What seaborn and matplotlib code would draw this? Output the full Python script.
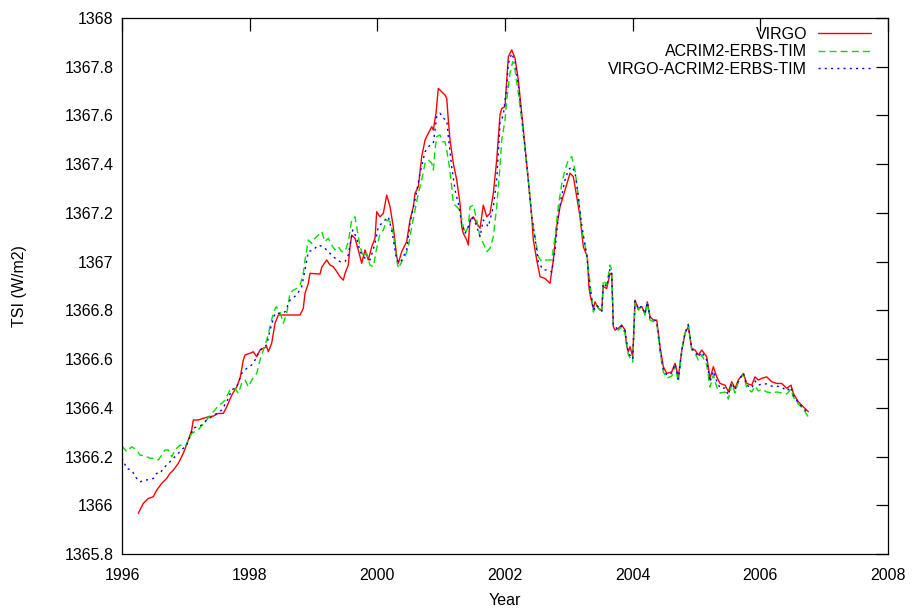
import matplotlib
matplotlib.use("Agg")
import matplotlib.pyplot as plt
import seaborn as sns
import pandas as pd
from matplotlib.ticker import FuncFormatter

# ---------------- data ----------------
virgo_year = [1996.255, 1996.334, 1996.412, 1996.490, 1996.544, 1996.622, 1996.700, 1996.752, 1996.804, 1996.882,
              1996.960, 1997.039, 1997.092, 1997.117, 1997.195, 1997.274, 1997.352, 1997.430, 1997.509, 1997.587,
              1997.640, 1997.719, 1997.797, 1997.849, 1997.900, 1997.927, 1998.005, 1998.057, 1998.110, 1998.162,
              1998.267, 1998.292, 1998.345, 1998.397, 1998.449, 1998.789, 1998.840, 1998.867, 1998.919, 1998.945,
              1999.102, 1999.129, 1999.207, 1999.259, 1999.310, 1999.364, 1999.415, 1999.467, 1999.494, 1999.545,
              1999.572, 1999.599, 1999.650, 1999.702, 1999.755, 1999.807, 1999.859, 1999.912, 1999.964, 1999.990,
              2000.042, 2000.094, 2000.147, 2000.199, 2000.250, 2000.304, 2000.329, 2000.382, 2000.460, 2000.512,
              2000.564, 2000.590, 2000.642, 2000.695, 2000.747, 2000.799, 2000.852, 2000.877, 2000.919, 2000.955,
              2001.009, 2001.060, 2001.087, 2001.112, 2001.139, 2001.190, 2001.244, 2001.295, 2001.322, 2001.347,
              2001.400, 2001.425, 2001.452, 2001.504, 2001.557, 2001.609, 2001.660, 2001.714, 2001.765, 2001.817,
              2001.870, 2001.922, 2001.949, 2002.000, 2002.027, 2002.052, 2002.105, 2002.157, 2002.209, 2002.262,
              2002.314, 2002.365, 2002.419, 2002.444, 2002.497, 2002.549, 2002.627, 2002.705, 2002.757, 2002.810,
              2002.862, 2002.940, 2003.019, 2003.070, 2003.124, 2003.175, 2003.227, 2003.290, 2003.316, 2003.340,
              2003.384, 2003.410, 2003.462, 2003.515, 2003.540, 2003.594, 2003.645, 2003.672, 2003.697, 2003.724,
              2003.775, 2003.829, 2003.880, 2003.907, 2003.932, 2003.959, 2004.001, 2004.037, 2004.089, 2004.142,
              2004.194, 2004.230, 2004.272, 2004.324, 2004.377, 2004.429, 2004.480, 2004.534, 2004.612, 2004.664,
              2004.715, 2004.769, 2004.820, 2004.872, 2004.925, 2004.977, 2005.029, 2005.082, 2005.160, 2005.212,
              2005.264, 2005.317, 2005.369, 2005.447, 2005.499, 2005.552, 2005.604, 2005.655, 2005.734, 2005.787,
              2005.865, 2005.917, 2005.969, 2006.022, 2006.100, 2006.179, 2006.257, 2006.335, 2006.414, 2006.481,
              2006.517, 2006.595, 2006.674, 2006.752]
virgo_tsi = [1365.967, 1366.008, 1366.028, 1366.035, 1366.062, 1366.090, 1366.110, 1366.131, 1366.144, 1366.172,
             1366.213, 1366.268, 1366.309, 1366.350, 1366.350, 1366.357, 1366.363, 1366.366, 1366.377, 1366.377,
             1366.404, 1366.452, 1366.486, 1366.521, 1366.596, 1366.617, 1366.624, 1366.630, 1366.610, 1366.637,
             1366.651, 1366.630, 1366.665, 1366.747, 1366.781, 1366.781, 1366.808, 1366.870, 1366.911, 1366.952,
             1366.949, 1366.977, 1367.007, 1366.986, 1366.979, 1366.959, 1366.938, 1366.924, 1366.952, 1366.986,
             1367.061, 1367.109, 1367.096, 1367.048, 1366.993, 1367.048, 1367.007, 1367.061, 1367.096, 1367.205,
             1367.184, 1367.198, 1367.273, 1367.225, 1367.143, 1367.020, 1366.993, 1367.041, 1367.082, 1367.171,
             1367.225, 1367.280, 1367.307, 1367.431, 1367.499, 1367.527, 1367.554, 1367.540, 1367.609, 1367.711,
             1367.697, 1367.684, 1367.670, 1367.581, 1367.499, 1367.404, 1367.335, 1367.239, 1367.143, 1367.116,
             1367.089, 1367.068, 1367.171, 1367.184, 1367.157, 1367.137, 1367.232, 1367.184, 1367.198, 1367.280,
             1367.417, 1367.602, 1367.629, 1367.636, 1367.745, 1367.841, 1367.869, 1367.835, 1367.745, 1367.609,
             1367.472, 1367.335, 1367.184, 1367.089, 1367.007, 1366.938, 1366.931, 1366.911, 1367.007, 1367.143,
             1367.225, 1367.294, 1367.363, 1367.349, 1367.266, 1367.184, 1367.061, 1367.020, 1366.892, 1366.855,
             1366.808, 1366.835, 1366.808, 1366.801, 1366.897, 1366.890, 1366.952, 1366.945, 1366.733, 1366.719,
             1366.726, 1366.740, 1366.719, 1366.651, 1366.630, 1366.651, 1366.610, 1366.842, 1366.808, 1366.815,
             1366.788, 1366.835, 1366.774, 1366.760, 1366.760, 1366.651, 1366.569, 1366.541, 1366.548, 1366.583,
             1366.527, 1366.637, 1366.706, 1366.733, 1366.644, 1366.637, 1366.617, 1366.637, 1366.610, 1366.521,
             1366.569, 1366.527, 1366.500, 1366.493, 1366.466, 1366.507, 1366.480, 1366.514, 1366.541, 1366.500,
             1366.493, 1366.527, 1366.514, 1366.521, 1366.527, 1366.507, 1366.500, 1366.500, 1366.480, 1366.493,
             1366.459, 1366.425, 1366.404, 1366.384]

acrim_year = [1996.000, 1996.074, 1996.152, 1996.230, 1996.282, 1996.360, 1996.439, 1996.517, 1996.569, 1996.622,
              1996.674, 1996.725, 1996.779, 1996.830, 1996.909, 1996.987, 1997.039, 1997.092, 1997.144, 1997.195,
              1997.274, 1997.327, 1997.379, 1997.457, 1997.509, 1997.562, 1997.614, 1997.692, 1997.770, 1997.822,
              1997.875, 1997.927, 1997.979, 1998.032, 1998.110, 1998.162, 1998.214, 1998.267, 1998.319, 1998.370,
              1998.413, 1998.475, 1998.527, 1998.580, 1998.632, 1998.684, 1998.737, 1998.789, 1998.840, 1998.867,
              1998.919, 1998.972, 1999.024, 1999.075, 1999.129, 1999.180, 1999.232, 1999.285, 1999.337, 1999.389,
              1999.442, 1999.494, 1999.545, 1999.599, 1999.650, 1999.677, 1999.729, 1999.780, 1999.834, 1999.885,
              1999.937, 1999.990, 2000.042, 2000.094, 2000.147, 2000.199, 2000.250, 2000.304, 2000.329, 2000.382,
              2000.434, 2000.485, 2000.539, 2000.590, 2000.642, 2000.695, 2000.747, 2000.799, 2000.852, 2000.877,
              2000.904, 2000.930, 2000.982, 2001.024, 2001.060, 2001.087, 2001.128, 2001.165, 2001.190, 2001.244,
              2001.295, 2001.347, 2001.374, 2001.425, 2001.452, 2001.504, 2001.557, 2001.609, 2001.660, 2001.714,
              2001.765, 2001.817, 2001.870, 2001.922, 2001.949, 2002.000, 2002.027, 2002.079, 2002.121, 2002.157,
              2002.209, 2002.262, 2002.314, 2002.365, 2002.419, 2002.470, 2002.522, 2002.575, 2002.654, 2002.732,
              2002.784, 2002.835, 2002.889, 2002.940, 2002.992, 2003.045, 2003.097, 2003.149, 2003.202, 2003.280,
              2003.332, 2003.384, 2003.437, 2003.515, 2003.540, 2003.594, 2003.645, 2003.672, 2003.697, 2003.775,
              2003.829, 2003.880, 2003.932, 2004.001, 2004.037, 2004.089, 2004.142, 2004.194, 2004.230, 2004.272,
              2004.377, 2004.429, 2004.480, 2004.534, 2004.612, 2004.664, 2004.715, 2004.769, 2004.820, 2004.872,
              2004.925, 2004.977, 2005.029, 2005.082, 2005.160, 2005.212, 2005.264, 2005.317, 2005.369, 2005.447,
              2005.499, 2005.552, 2005.604, 2005.655, 2005.734, 2005.787, 2005.865, 2005.917, 2005.969, 2006.022,
              2006.100, 2006.179, 2006.257, 2006.335, 2006.414, 2006.481, 2006.517, 2006.595, 2006.674, 2006.752]
acrim_tsi = [1366.243, 1366.220, 1366.240, 1366.227, 1366.206, 1366.202, 1366.193, 1366.193, 1366.186, 1366.206,
             1366.227, 1366.227, 1366.199, 1366.227, 1366.247, 1366.240, 1366.268, 1366.295, 1366.302, 1366.309,
             1366.336, 1366.350, 1366.370, 1366.391, 1366.411, 1366.418, 1366.432, 1366.473, 1366.480, 1366.459,
             1366.500, 1366.514, 1366.486, 1366.514, 1366.541, 1366.596, 1366.637, 1366.678, 1366.733, 1366.788,
             1366.815, 1366.794, 1366.747, 1366.788, 1366.870, 1366.883, 1366.890, 1366.904, 1366.952, 1367.007,
             1367.089, 1367.075, 1367.096, 1367.109, 1367.123, 1367.082, 1367.096, 1367.068, 1367.048, 1367.061,
             1367.041, 1367.041, 1367.082, 1367.171, 1367.184, 1367.143, 1367.061, 1367.020, 1367.034, 1366.986,
             1366.979, 1367.055, 1367.116, 1367.130, 1367.171, 1367.164, 1367.116, 1367.007, 1366.972, 1367.000,
             1367.020, 1367.061, 1367.143, 1367.212, 1367.280, 1367.335, 1367.404, 1367.417, 1367.404, 1367.376,
             1367.458, 1367.513, 1367.520, 1367.492, 1367.492, 1367.458, 1367.390, 1367.307, 1367.239, 1367.225,
             1367.212, 1367.143, 1367.116, 1367.143, 1367.225, 1367.232, 1367.171, 1367.102, 1367.075, 1367.041,
             1367.055, 1367.102, 1367.225, 1367.390, 1367.499, 1367.581, 1367.663, 1367.773, 1367.821, 1367.787,
             1367.691, 1367.581, 1367.458, 1367.335, 1367.184, 1367.102, 1367.020, 1367.000, 1367.007, 1367.007,
             1367.102, 1367.225, 1367.321, 1367.376, 1367.417, 1367.431, 1367.376, 1367.266, 1367.130, 1367.034,
             1366.911, 1366.793, 1366.822, 1366.789, 1366.924, 1366.904, 1366.986, 1366.966, 1366.740, 1366.719,
             1366.732, 1366.707, 1366.617, 1366.588, 1366.834, 1366.801, 1366.818, 1366.781, 1366.830, 1366.760,
             1366.748, 1366.629, 1366.547, 1366.522, 1366.530, 1366.571, 1366.506, 1366.629, 1366.707, 1366.744,
             1366.637, 1366.625, 1366.596, 1366.617, 1366.576, 1366.485, 1366.535, 1366.485, 1366.461, 1366.465,
             1366.436, 1366.498, 1366.461, 1366.506, 1366.539, 1366.481, 1366.465, 1366.489, 1366.469, 1366.477,
             1366.465, 1366.461, 1366.465, 1366.461, 1366.457, 1366.477, 1366.444, 1366.416, 1366.395, 1366.362]

comp_year = [1996.000, 1996.074, 1996.152, 1996.230, 1996.282, 1996.360, 1996.439, 1996.490, 1996.544, 1996.595,
             1996.647, 1996.700, 1996.752, 1996.804, 1996.857, 1996.909, 1996.960, 1997.014, 1997.065, 1997.117,
             1997.170, 1997.249, 1997.327, 1997.405, 1997.484, 1997.562, 1997.640, 1997.719, 1997.797, 1997.875,
             1997.954, 1998.032, 1998.084, 1998.135, 1998.189, 1998.267, 1998.319, 1998.397, 1998.475, 1998.554,
             1998.632, 1998.737, 1998.815, 1998.867, 1998.919, 1998.997, 1999.075, 1999.154, 1999.232, 1999.310,
             1999.415, 1999.494, 1999.545, 1999.614, 1999.677, 1999.729, 1999.807, 1999.885, 1999.964, 2000.015,
             2000.094, 2000.172, 2000.225, 2000.304, 2000.355, 2000.460, 2000.512, 2000.590, 2000.669, 2000.747,
             2000.825, 2000.877, 2000.930, 2000.982, 2001.034, 2001.087, 2001.112, 2001.165, 2001.217, 2001.269,
             2001.322, 2001.374, 2001.425, 2001.479, 2001.530, 2001.609, 2001.660, 2001.739, 2001.817, 2001.870,
             2001.922, 2001.974, 2002.027, 2002.052, 2002.105, 2002.157, 2002.209, 2002.262, 2002.314, 2002.365,
             2002.419, 2002.470, 2002.522, 2002.600, 2002.679, 2002.732, 2002.784, 2002.835, 2002.889, 2002.940,
             2002.992, 2003.045, 2003.097, 2003.149, 2003.202, 2003.280, 2003.332, 2003.384, 2003.437, 2003.515,
             2003.540, 2003.594, 2003.645, 2003.672, 2003.697, 2003.775, 2003.829, 2003.880, 2003.932, 2004.001,
             2004.037, 2004.089, 2004.142, 2004.194, 2004.230, 2004.272, 2004.377, 2004.429, 2004.480, 2004.534,
             2004.612, 2004.664, 2004.715, 2004.769, 2004.820, 2004.872, 2004.925, 2004.977, 2005.029, 2005.082,
             2005.160, 2005.212, 2005.264, 2005.317, 2005.369, 2005.447, 2005.499, 2005.552, 2005.604, 2005.655,
             2005.734, 2005.787, 2005.865, 2005.917, 2005.969, 2006.022, 2006.100, 2006.179, 2006.257, 2006.335,
             2006.414, 2006.481, 2006.517, 2006.595, 2006.674, 2006.752]
comp_tsi = [1366.194, 1366.151, 1366.144, 1366.110, 1366.096, 1366.103, 1366.106, 1366.110, 1366.131, 1366.131,
            1366.151, 1366.165, 1366.179, 1366.193, 1366.206, 1366.220, 1366.234, 1366.247, 1366.281, 1366.316,
            1366.322, 1366.329, 1366.350, 1366.363, 1366.377, 1366.391, 1366.425, 1366.473, 1366.486, 1366.541,
            1366.562, 1366.576, 1366.596, 1366.624, 1366.644, 1366.658, 1366.719, 1366.788, 1366.788, 1366.794,
            1366.842, 1366.863, 1366.897, 1366.966, 1367.041, 1367.048, 1367.068, 1367.061, 1367.041, 1367.020,
            1367.000, 1367.000, 1367.027, 1367.130, 1367.096, 1367.041, 1367.014, 1367.007, 1367.075, 1367.143,
            1367.164, 1367.184, 1367.130, 1367.007, 1366.993, 1367.048, 1367.157, 1367.253, 1367.363, 1367.451,
            1367.479, 1367.486, 1367.595, 1367.609, 1367.588, 1367.581, 1367.513, 1367.390, 1367.294, 1367.239,
            1367.157, 1367.116, 1367.143, 1367.184, 1367.164, 1367.102, 1367.171, 1367.143, 1367.225, 1367.335,
            1367.568, 1367.602, 1367.718, 1367.814, 1367.855, 1367.821, 1367.725, 1367.598, 1367.466, 1367.335,
            1367.184, 1367.097, 1366.998, 1366.966, 1366.966, 1366.957, 1367.048, 1367.187, 1367.273, 1367.335,
            1367.376, 1367.390, 1367.368, 1367.265, 1367.150, 1367.027, 1366.892, 1366.801, 1366.822, 1366.797,
            1366.912, 1366.897, 1366.970, 1366.957, 1366.736, 1366.723, 1366.736, 1366.715, 1366.625, 1366.600,
            1366.838, 1366.805, 1366.818, 1366.785, 1366.834, 1366.768, 1366.756, 1366.641, 1366.559, 1366.534,
            1366.543, 1366.580, 1366.518, 1366.633, 1366.707, 1366.740, 1366.641, 1366.633, 1366.608, 1366.629,
            1366.596, 1366.506, 1366.551, 1366.510, 1366.481, 1366.481, 1366.452, 1366.502, 1366.473, 1366.510,
            1366.543, 1366.493, 1366.481, 1366.510, 1366.493, 1366.498, 1366.498, 1366.489, 1366.489, 1366.485,
            1366.469, 1366.485, 1366.452, 1366.420, 1366.399, 1366.374]

series_names = ["VIRGO", "ACRIM2-ERBS-TIM", "VIRGO-ACRIM2-ERBS-TIM"]
x_ticks = [1996, 1998, 2000, 2002, 2004, 2006, 2008]
y_ticks = [1365.8, 1366.0, 1366.2, 1366.4, 1366.6, 1366.8, 1367.0, 1367.2, 1367.4, 1367.6, 1367.8, 1368.0]

# ---------------- styling ----------------
sns.set_theme(style="white")
plt.rcParams["font.family"] = ["Liberation Sans", "DejaVu Sans"]
plt.rcParams.update({
    "axes.linewidth": 0.9,
    "text.color": "black",
    "axes.labelcolor": "black",
    "xtick.color": "black",
    "ytick.color": "black",
    "axes.edgecolor": "black",
})

fig = plt.figure(figsize=(9.2, 6.1), dpi=100)
ax = fig.add_axes([122 / 920, 56 / 610, (888 - 122) / 920, (554 - 18) / 610])

frames = [
    pd.DataFrame({"Year": virgo_year, "TSI": virgo_tsi}),
    pd.DataFrame({"Year": acrim_year, "TSI": acrim_tsi}),
    pd.DataFrame({"Year": comp_year, "TSI": comp_tsi}),
]
colors = ["#ff0000", "#00e000", "#0000ff"]
dashes = [None, (5, 3), (1.5, 3)]
for df, name, col, ds in zip(frames, series_names, colors, dashes):
    sns.lineplot(data=df, x="Year", y="TSI", ax=ax, color=col, linewidth=1.0,
                 label=name, sort=False, estimator=None)
    if ds is not None:
        ax.get_lines()[-1].set_dashes(ds)

ax.set_xlim(1996, 2008)
ax.set_ylim(1365.8, 1368.0)
ax.set_xticks(x_ticks)
ax.set_yticks(y_ticks)
ax.yaxis.set_major_formatter(FuncFormatter(lambda v, p: "%g" % round(v, 1)))
ax.xaxis.set_major_formatter(FuncFormatter(lambda v, p: "%d" % round(v)))
ax.tick_params(direction="in", length=9, width=0.9, top=True, right=True,
               labelsize=11.5, colors="black")
ax.tick_params(axis="x", pad=10)
ax.tick_params(axis="y", pad=6)
ax.set_xlabel("Year", fontsize=11.5, labelpad=7)
ax.set_ylabel("TSI (W/m2)", fontsize=11.5, labelpad=27)

leg = ax.legend(loc="upper right", bbox_to_anchor=(0.986, 0.995), frameon=False,
                markerfirst=False, fontsize=11.5, handlelength=3.3, handletextpad=0.7,
                labelspacing=0.15, borderaxespad=0)
for t in leg.get_texts():
    t.set_color("black")
for col in leg._legend_handle_box.get_children():
    col.align = "right"

fig.savefig("out.png", dpi=100, facecolor="white")
